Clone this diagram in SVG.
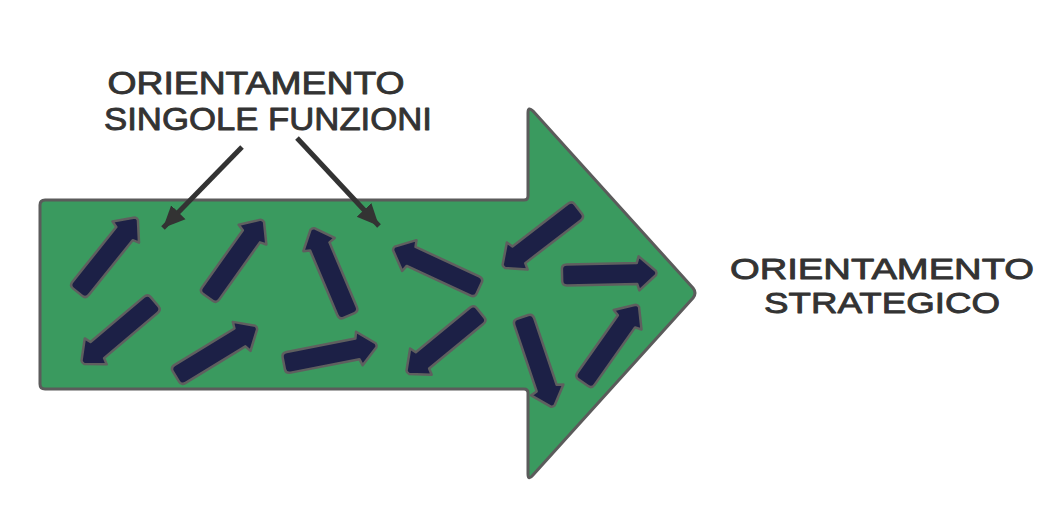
<svg xmlns="http://www.w3.org/2000/svg" xmlns:xlink="http://www.w3.org/1999/xlink" width="1040" height="525" viewBox="0 0 1040 525">
  <style>
    .lbl { font-family: "Liberation Sans", Arial, sans-serif; font-weight: 400; fill: #333333; stroke: #333333; stroke-width: 0.9; stroke-linejoin: round; text-anchor: middle; }
    .big { fill: #3a9a5f; stroke: #5b5b5b; stroke-width: 3; stroke-linejoin: round; }
    .sa { fill: #1c2046; stroke: #5f5f5f; stroke-width: 2.5; stroke-linejoin: round; }
    .ptr { stroke: #333333; stroke-width: 5; fill: none; }
  </style>
  <defs>
    <marker id="ah" markerUnits="userSpaceOnUse" markerWidth="24" markerHeight="24" viewBox="0 0 24 24" refX="22" refY="12" orient="auto">
      <path d="M0,2 L22,12 L0,22 Z" fill="#333333"/>
    </marker>
    <path id="smallArrow" d="M-90,-10.5 L-20,-10.5 L-18,-17 L-1,-2 Q0,0 -1,2 L-18,17 L-20,10.5 L-90,10.5 Q-95,10.5 -95,6 L-95,-6 Q-95,-10.5 -90,-10.5 Z"/>
  </defs>

  <rect width="1040" height="525" fill="#ffffff"/>

  <g id="big-arrow">
    <path class="big" d="M45,200 L524,200 Q528,200 528,196 L528,113 Q528,106 533,111 L693,288 Q697,293 693,298 L533,475 Q528,481 528,474 L528,393 Q528,389 524,389 L45,389 Q40,389 40,384 L40,205 Q40,200 45,200 Z"/>
  </g>

  <g id="flow-arrows" class="sa">
    <use id="a1" xlink:href="#smallArrow" transform="translate(137,218) rotate(-51.3)"/>
    <use id="a2" xlink:href="#smallArrow" transform="translate(82,363) rotate(139.8)"/>
    <use id="a3" xlink:href="#smallArrow" transform="translate(263,220) rotate(-54.5)"/>
    <use id="a4" xlink:href="#smallArrow" transform="translate(257,327) rotate(-31.4)"/>
    <use id="a5" xlink:href="#smallArrow" transform="translate(312,228) rotate(-112.9)"/>
    <use id="a6" xlink:href="#smallArrow" transform="translate(377,345) rotate(-11.1)"/>
    <use id="a7" xlink:href="#smallArrow" transform="translate(393,248) rotate(-155.1)"/>
    <use id="a8" xlink:href="#smallArrow" transform="translate(503,267) rotate(142.4)"/>
    <use id="a9" xlink:href="#smallArrow" transform="translate(657,273) rotate(-1.2)"/>
    <use id="a10" xlink:href="#smallArrow" transform="translate(407,373) rotate(140.6)"/>
    <use id="a11" xlink:href="#smallArrow" transform="translate(553,407) rotate(71.4)"/>
    <use id="a12" xlink:href="#smallArrow" transform="translate(638,305) rotate(-54.8)"/>
  </g>

  <g id="label-singole">
    <text class="lbl" x="256" y="94" font-size="32" textLength="297" lengthAdjust="spacingAndGlyphs">ORIENTAMENTO</text>
    <text class="lbl" x="268" y="130" font-size="32" textLength="328" lengthAdjust="spacingAndGlyphs">SINGOLE FUNZIONI</text>
  </g>

  <g id="label-strategico">
    <text class="lbl" x="882" y="279" font-size="30.4" textLength="304" lengthAdjust="spacingAndGlyphs">ORIENTAMENTO</text>
    <text class="lbl" x="882" y="313" font-size="30.4" textLength="236" lengthAdjust="spacingAndGlyphs">STRATEGICO</text>
  </g>

  <g id="connectors">
    <line class="ptr" x1="242" y1="147" x2="163" y2="228" marker-end="url(#ah)"/>
    <line class="ptr" x1="297" y1="138" x2="379" y2="226" marker-end="url(#ah)"/>
  </g>
</svg>
